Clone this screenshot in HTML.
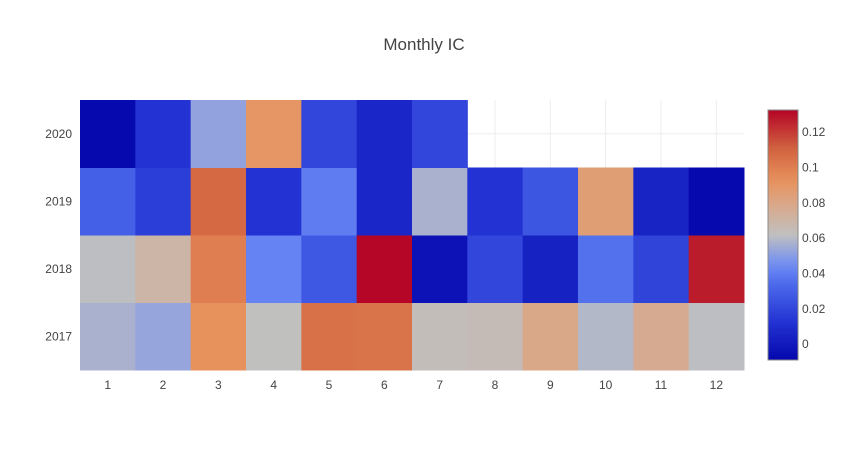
<!DOCTYPE html>
<html><head><meta charset="utf-8"><style>
body{margin:0;background:#fff;font-family:"Liberation Sans",sans-serif}
svg text{font-family:"Liberation Sans",sans-serif;fill:#444}
</style></head><body>
<svg id="c" width="848" height="450">
<text x="424" y="50" text-anchor="middle" font-size="17">Monthly IC</text>
</svg>
<script>
const months=[1,2,3,4,5,6,7,8,9,10,11,12];
const years=[2017,2018,2019,2020];
const v2017=[0.057,0.053,0.092,0.062,0.105,0.104,0.064,0.065,0.079,0.059,0.077,0.061];
const v2018=[0.061,0.070,0.100,0.042,0.027,0.132,-0.004,0.020,0.004,0.036,0.019,0.127];
const v2019=[0.030,0.017,0.108,0.012,0.040,0.006,0.057,0.012,0.026,0.085,0.005,-0.008];
const v2020=[-0.008,0.012,0.052,0.090,0.020,0.006,0.020,null,null,null,null,null];
const cbTicks=[0,0.02,0.04,0.06,0.08,0.1,0.12];
const vals=[v2017,v2018,v2019,v2020];
const zmin=-0.009,zmax=0.1325;
const stops=[[0,[5,8,172]],[0.15,[35,50,210]],[0.3,[75,105,235]],[0.38,[110,140,245]],[0.5,[192,192,192]],[0.62,[217,168,138]],[0.72,[232,145,90]],[0.85,[208,96,63]],[1,[180,4,38]]];
function col(v){let t=Math.max(0,Math.min(1,(v-zmin)/(zmax-zmin)));for(let i=1;i<stops.length;i++){if(t<=stops[i][0]){const a=stops[i-1],b=stops[i],f=(t-a[0])/(b[0]-a[0]);return 'rgb('+a[1].map((c,k)=>Math.round(c+(b[1][k]-c)*f)).join(',')+')';}}return 'rgb(180,4,38)';}
const X0=80,X1=744,Y0=100,Y1=370;
const cw=(X1-X0)/months.length,ch=(Y1-Y0)/years.length;
const xs=i=>X0+i*cw, ys=j=>Y1-(j+1)*ch;
const NS='http://www.w3.org/2000/svg',svg=document.getElementById('c');
function mk(t,a,p){const e=document.createElementNS(NS,t);for(const k in a)e.setAttribute(k,a[k]);(p||svg).appendChild(e);return e;}
months.forEach((m,i)=>{const l=mk('line',{x1:xs(i)+cw/2,x2:xs(i)+cw/2,y1:Y0,y2:Y1,stroke:'#eee'});

});
years.forEach((y,j)=>{const l=mk('line',{x1:X0,x2:X1,y1:ys(j)+ch/2,y2:ys(j)+ch/2,stroke:'#eee'});

});
vals.forEach((row,j)=>row.forEach((v,i)=>{if(v===null)return;
const r=mk('rect',{x:xs(i),y:ys(j),width:cw+0.5,height:ch+0.5,fill:col(v)});

}));
months.forEach((m,i)=>{const t=mk('text',{x:xs(i)+cw/2,y:Y1+19,'text-anchor':'middle','font-size':12});t.textContent=m;

});
years.forEach((y,j)=>{const t=mk('text',{x:X0-8,y:ys(j)+ch/2+4,'text-anchor':'end','font-size':12});t.textContent=y;

});
const CX=768,CW=30,CY0=110,CY1=360;
const cy=v=>CY1-(v-zmin)/(zmax-zmin)*(CY1-CY0);
const defs=mk('defs',{});const g=mk('linearGradient',{id:'cg',x1:0,y1:1,x2:0,y2:0},defs);
for(let k=0;k<=20;k++){const t=k/20;mk('stop',{offset:t,'stop-color':col(zmin+t*(zmax-zmin))},g);}
const cb=mk('rect',{x:CX,y:CY0,width:CW,height:CY1-CY0,fill:'url(#cg)',stroke:'#888','stroke-width':1});


cbTicks.forEach(v=>{const t=mk('text',{x:CX+CW+4,y:cy(v)+4,'font-size':12});t.textContent=v;

});
</script>
</body></html>
